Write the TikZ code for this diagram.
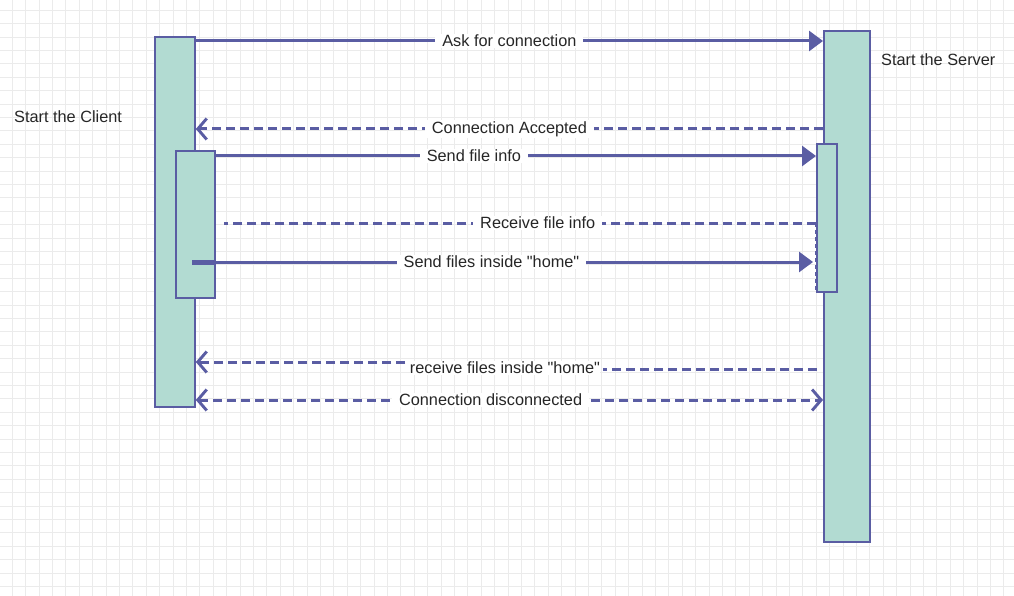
\documentclass[tikz,border=0pt]{standalone}
\usepackage{fontspec}
\setmainfont{Liberation Sans}[Ligatures=TeXOff]
\usetikzlibrary{arrows.meta}
\definecolor{lineblue}{HTML}{5A5DA3}
\definecolor{barfill}{HTML}{B2DBD2}
\definecolor{gridgray}{HTML}{EBEBEB}
\definecolor{txt}{HTML}{262626}
\tikzset{
  bar/.style={draw=lineblue,line width=1.8pt,fill=barfill,inner sep=0pt,anchor=north west},
  msg/.style={lineblue,line width=3pt,-{Triangle[length=14pt,width=20pt]}},
  reply/.style={lineblue,line width=3pt,dash pattern=on 9pt off 5pt,-{Straight Barb[length=9pt,width=21pt,line width=2.9pt]}},
  lbl/.style={fill=white,text=txt,inner xsep=7pt,inner ysep=1pt,font=\fontsize{16.3}{18}\selectfont},
}
\begin{document}
\begin{tikzpicture}[x=1pt,y=-1pt]
  \useasboundingbox (0,0) rectangle (1014,596);
  % background grid
  \foreach \i in {0,...,75}
    \draw[gridgray,line width=0.9pt] (12.3+13.4*\i,0) -- (12.3+13.4*\i,596);
  \foreach \j in {0,...,44}
    \draw[gridgray,line width=0.9pt] (0,10.3+13.4*\j) -- (1014,10.3+13.4*\j);
  % lifelines
  \node[bar,minimum width=40pt,minimum height=370pt] (cli) at (154,36) {};
  \node[bar,minimum width=39pt,minimum height=147pt] (clia) at (175,150) {};
  \node[bar,minimum width=46pt,minimum height=511pt] (srv) at (823,30) {};
  \node[bar,minimum width=20pt,minimum height=148pt] (srva) at (816,143) {};
  \node[anchor=west,inner sep=0pt,text=txt,font=\fontsize{16.3}{18}\selectfont] (clilbl) at (14,117) {Start the Client};
  \node[anchor=west,inner sep=0pt,text=txt,font=\fontsize{16.3}{18}\selectfont] (srvlbl) at (881,60) {Start the Server};
  % rows
  \coordinate (r1) at (0,41);
  \coordinate (r2) at (0,129);
  \coordinate (r3) at (0,156);
  \coordinate (r4) at (0,223);
  \coordinate (r5) at (0,262);
  \coordinate (r6a) at (0,369);
  \coordinate (r6b) at (0,362);
  \coordinate (r7) at (0,400);
  \coordinate (r4s) at (224,223);
  \coordinate (r5s) at (192,262);
  \coordinate (r6l) at (405,362);
  \coordinate (r6r) at (603,369);
  % messages
  \draw[msg] (cli.east |- r1) -- node[lbl,pos=0.5] {Ask for connection} (srv.west |- r1);
  \draw[reply] (srv.west |- r2) -- node[lbl,pos=0.5] {Connection Accepted} (cli.east |- r2);
  \draw[msg] (clia.east |- r3) -- node[lbl,pos=0.43] {Send file info} (srva.west |- r3);
  \draw[reply,-] (srva.west |- r4) -- node[lbl,pos=0.47] {Receive file info} (r4s);
  \draw[lineblue,line width=2.4pt,dash pattern=on 4pt off 3pt] (srva.west |- r4) -- (srva.south west);
  \draw[lineblue,line width=5pt] (r5s) -- (clia.east |- r5);
  \draw[msg,shorten >=3pt] (r5s) -- node[lbl,pos=0.48] {Send files inside "home"} (srva.west |- r5);
  \node[lbl,inner xsep=0pt] (l6) at (505,368) {receive files inside "home"};
  \draw[reply,-] ([xshift=-6pt]srv.west |- r6a) -- (r6r);
  \draw[reply] (r6l) -- (cli.east |- r6b);
  \draw[reply,{Straight Barb[length=9pt,width=21pt,line width=2.9pt]}-{Straight Barb[length=9pt,width=21pt,line width=2.9pt]}] (cli.east |- r7) -- node[lbl,pos=0.47] {Connection disconnected} (srv.west |- r7);
\end{tikzpicture}
\end{document}
